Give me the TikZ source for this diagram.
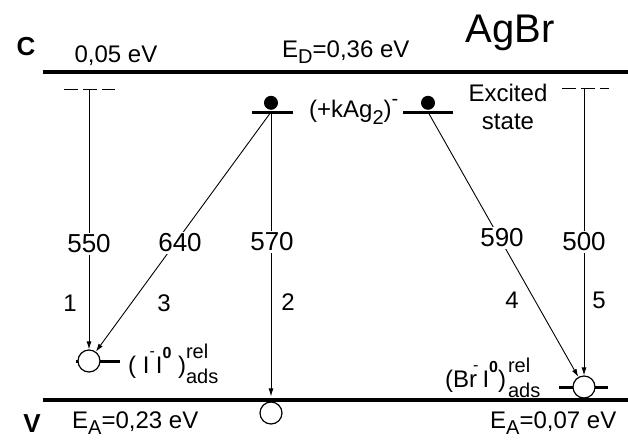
\documentclass[tikz,border=0pt]{standalone}
\usepackage{fontspec}
\setmainfont{Liberation Sans}
\usetikzlibrary{arrows.meta, positioning}
\newcommand{\setpx}[1]{\fontsize{#1}{#1}\selectfont}
\newcommand{\upx}[2]{\raisebox{#1}{\setpx{20}#2}}
\newcommand{\smx}[2]{\raisebox{#1}{\setpx{16}#2}}
\newcommand{\supsub}[2]{\rlap{\upx{15pt}{#1}}\upx{-10pt}{#2}}
\tikzset{
  band/.style  = {line width=3.5pt},
  lvl/.style   = {line width=3pt},
  exlvl/.style = {line width=0.9pt, dash pattern=on 14pt off 5pt},
  elec/.style  = {circle, fill=black, minimum size=14pt, inner sep=0pt},
  hole/.style  = {circle, draw, fill=white, line width=1.2pt,
                  minimum size=22pt, inner sep=0pt},
  arr/.style   = {-{Latex[length=8pt, width=5pt]}, line width=0.9pt},
  wl/.style    = {font=\setpx{26}, fill=white, inner sep=2pt},
  tr/.style    = {font=\setpx{24}, inner sep=0pt},
  txt/.style   = {font=\setpx{24}, inner sep=0pt},
}
\begin{document}
\begin{tikzpicture}[x=1pt, y=-1pt]
\useasboundingbox (0,0) rectangle (628,439);

%% ── bands ───────────────────────────────────────────────────────────────────
\coordinate (cL) at (43,72);   \coordinate (cR) at (628,72);
\coordinate (vL) at (43,400);  \coordinate (vR) at (628,400);
\draw[band] (cL) -- (cR);
\draw[band] (vL) -- (vR);

%% ── levels ──────────────────────────────────────────────────────────────────
\draw[exlvl] (64,89) -- (115,89);
\draw[exlvl] (562,88) -- (609,88);
\draw[lvl] (252,112) -- (293,112);
\draw[lvl] (403,112) -- (453,112);
\draw[lvl] (76,361) -- (120,361);
\draw[lvl] (559,387) -- (608,387);
\coordinate (exL) at (89,89);
\coordinate (exR) at (584,88);
\coordinate (lvM) at (271,112);
\coordinate (lvR) at (428,112);

%% ── electrons and holes ─────────────────────────────────────────────────────
\node[elec, above=2pt of lvM] (eM) {};
\node[elec, above=2pt of lvR] (eR) {};
\node[hole] (hL) at (89,361) {};
\node[hole] (hM) at (271,413) {};
\node[hole] (hR) at (584,387) {};

%% ── transitions ─────────────────────────────────────────────────────────────
\draw[arr] (exL) -- (hL);
\draw[arr] (lvM) -- (hL);
\draw[arr, shorten >=5pt] (lvM) -- (hM);
\draw[arr] (lvR) -- (hR);
\draw[arr] (exR) -- (hR);

%% ── wavelengths ─────────────────────────────────────────────────────────────
\node[wl] (w550) at (89,244)  {550};
\node[wl] (w640) at (180,243) {640};
\node[wl] (w570) at (272,242) {570};
\node[wl] (w590) at (502,238) {590};
\node[wl] (w500) at (584,242) {500};

%% ── transition numbers ──────────────────────────────────────────────────────
\node[tr] (t1) at (70,303)  {1};
\node[tr] (t3) at (164,303) {3};
\node[tr] (t2) at (288,302) {2};
\node[tr] (t4) at (512,300) {4};
\node[tr] (t5) at (599,300) {5};

%% ── texts ───────────────────────────────────────────────────────────────────
\node[txt, font=\setpx{26}\bfseries, anchor=base] (cLab) at (26,55) {C};
\node[txt, font=\setpx{26}\bfseries, anchor=base] (vLab) at (32,432) {V};
\node[txt, anchor=base] (eC) at (116,62) {0,05 eV};
\node[txt, anchor=base west] (eD) at (282,57) {E\upx{-6pt}{D}=0,36 eV};
\node[txt, font=\setpx{40}, anchor=base] (title) at (510,42) {AgBr};
\node[txt, anchor=base west] (ag) at (309,117) {(+kAg\upx{-7pt}{2})\upx{12pt}{-}};
\node[txt, font=\fontsize{24}{27.5}\selectfont, align=center] (exc) at (508,107)
  {Excited\\state};
\node[txt, anchor=base west] (iL) at (128,373)
  {( I\smx{17pt}{-}\kern1pt I\smx{15pt}{\textbf{0}} )\supsub{rel}{ads}};
\node[txt, anchor=base west] (iR) at (445,387)
  {(Br\kern-4pt\smx{17pt}{-}\kern4pt I\smx{15pt}{\textbf{0}})\kern2pt\supsub{rel}{ads}};
\node[txt, anchor=base west] (eA1) at (72,428) {E\upx{-6pt}{A}=0,23 eV};
\node[txt, anchor=base west] (eA2) at (490,428) {E\upx{-6pt}{A}=0,07 eV};

\end{tikzpicture}
\end{document}
